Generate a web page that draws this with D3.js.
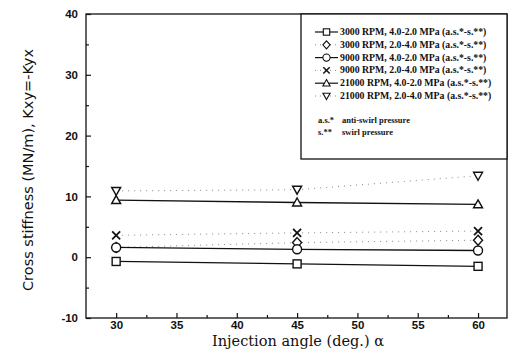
<!DOCTYPE html>
<html>
<head>
<meta charset="utf-8">
<script src="https://cdn.jsdelivr.net/npm/d3@7"></script>
<style>
  body { margin: 0; background: #fff; }
  svg { display: block; }
</style>
</head>
<body>
<svg></svg>
<script>
// injection angles (deg.)
const angles = [30, 45, 60];

// cross stiffness values (MN/m) per series
const sq3000_42 = [-0.7, -1.1, -1.5];
const di3000_24 = [1.6, 2.4, 2.8];
const ci9000_42 = [1.6, 1.3, 1.1];
const x9000_24 = [3.6, 4.0, 4.3];
const up21000_42 = [9.4, 9.0, 8.7];
const dn21000_24 = [10.9, 11.1, 13.4];

const seriesNames = [
  '3000 RPM, 4.0-2.0 MPa (a.s.*-s.**)',
  '3000 RPM, 2.0-4.0 MPa (a.s.*-s.**)',
  '9000 RPM, 4.0-2.0 MPa (a.s.*-s.**)',
  '9000 RPM, 2.0-4.0 MPa (a.s.*-s.**)',
  '21000 RPM, 4.0-2.0 MPa (a.s.*-s.**)',
  '21000 RPM, 2.0-4.0 MPa (a.s.*-s.**)'
];
const xTicks = [30, 35, 40, 45, 50, 55, 60];
const yTicks = [-10, 0, 10, 20, 30, 40];

const series = [
  { name: seriesNames[0], values: sq3000_42, symbol: 'square', dotted: false },
  { name: seriesNames[1], values: di3000_24, symbol: 'diamond', dotted: true },
  { name: seriesNames[2], values: ci9000_42, symbol: 'circle', dotted: false },
  { name: seriesNames[3], values: x9000_24, symbol: 'cross', dotted: true },
  { name: seriesNames[4], values: up21000_42, symbol: 'up', dotted: false },
  { name: seriesNames[5], values: dn21000_24, symbol: 'down', dotted: true }
];

const width = 510;
const height = 358;
const margin = { top: 14, right: 3, bottom: 40, left: 86 };

const svg = d3.select('svg')
  .attr('width', width)
  .attr('height', height);

const x = d3.scaleLinear()
  .domain([27.5, 62.4])
  .range([margin.left, width - margin.right]);

const y = d3.scaleLinear()
  .domain([-10, 40])
  .range([height - margin.bottom, margin.top]);

// frame
svg.append('rect')
  .attr('x', margin.left)
  .attr('y', margin.top)
  .attr('width', width - margin.right - margin.left)
  .attr('height', height - margin.bottom - margin.top)
  .attr('fill', 'none')
  .attr('stroke', '#111')
  .attr('stroke-width', 1.3);

// x axis (ticks point inward)
const xAxis = svg.append('g')
  .attr('transform', `translate(0,${height - margin.bottom})`)
  .call(d3.axisBottom(x).tickValues(xTicks).tickSize(-5).tickPadding(3).tickFormat(d => String(d)));
xAxis.select('.domain').remove();
xAxis.selectAll('.tick text')
  .attr('font-family', 'Liberation Sans, Arial, sans-serif')
  .attr('font-size', 11.5)
  .attr('font-weight', 'bold')
  .attr('fill', '#111');

svg.append('g')
  .attr('transform', `translate(0,${height - margin.bottom})`)
  .call(d3.axisBottom(x).tickValues(d3.range(32.5, 60, 5)).tickSize(-3).tickFormat(''))
  .select('.domain').remove();

const yAxis = svg.append('g')
  .attr('transform', `translate(${margin.left},0)`)
  .call(d3.axisLeft(y).tickValues(yTicks).tickSize(-5).tickPadding(8).tickFormat(d => String(d)));
yAxis.select('.domain').remove();
yAxis.selectAll('.tick text')
  .attr('font-family', 'Liberation Sans, Arial, sans-serif')
  .attr('font-size', 11.5)
  .attr('font-weight', 'bold')
  .attr('fill', '#111');

svg.append('g')
  .attr('transform', `translate(${margin.left},0)`)
  .call(d3.axisLeft(y).tickValues(d3.range(-5, 40, 10)).tickSize(-3).tickFormat(''))
  .select('.domain').remove();

svg.selectAll('.tick line').attr('stroke', '#111').attr('stroke-width', 1.2);

// axis titles
svg.append('text')
  .attr('x', 298)
  .attr('y', 346)
  .attr('text-anchor', 'middle')
  .attr('font-family', 'DejaVu Serif, serif')
  .attr('font-size', 14.5)
  .attr('fill', '#111')
  .text('Injection angle (deg.)  \u03b1');

svg.append('text')
  .attr('transform', `translate(33,${(margin.top + height - margin.bottom) / 2 + 4}) rotate(-90)`)
  .attr('text-anchor', 'middle')
  .attr('font-family', 'DejaVu Sans, sans-serif')
  .attr('font-size', 14.5)
  .attr('fill', '#111')
  .text('Cross stiffness (MN/m), Kxy=-Kyx');

// symbols
function drawSymbol(g, type) {
  const s = 4.5;
  g.attr('fill', 'white').attr('stroke', '#111').attr('stroke-width', 1.4);
  if (type === 'square') {
    g.append('rect').attr('x', -s + 0.5).attr('y', -s + 0.5).attr('width', 2 * s - 1).attr('height', 2 * s - 1);
  } else if (type === 'circle') {
    g.append('circle').attr('r', s);
  } else if (type === 'diamond') {
    g.append('path').attr('d', `M0,${-s - 0.5}L${s},0L0,${s + 0.5}L${-s},0Z`);
  } else if (type === 'up') {
    g.append('path').attr('d', `M0,${-s}L${s},${s - 1}L${-s},${s - 1}Z`);
  } else if (type === 'down') {
    g.append('path').attr('d', `M0,${s}L${s},${-s + 1}L${-s},${-s + 1}Z`);
  } else if (type === 'cross') {
    g.append('path').attr('d', `M${-s + 0.5},${-s + 0.5}L${s - 0.5},${s - 0.5}M${-s + 0.5},${s - 0.5}L${s - 0.5},${-s + 0.5}`)
      .attr('stroke-width', 1.8);
  }
}

const line = d3.line()
  .x((d, i) => x(angles[i]))
  .y(d => y(d));

const plot = svg.append('g');

series.forEach(s => {
  plot.append('path')
    .datum(s.values)
    .attr('d', line)
    .attr('fill', 'none')
    .attr('stroke', s.dotted ? '#888' : '#111')
    .attr('stroke-width', s.dotted ? 1 : 1.3)
    .attr('stroke-dasharray', s.dotted ? '1,5' : null);
});

series.forEach(s => {
  s.values.forEach((v, i) => {
    const g = plot.append('g')
      .attr('transform', `translate(${x(angles[i])},${y(v)})`);
    drawSymbol(g, s.symbol);
  });
});

// legend
const legend = svg.append('g');
legend.append('rect')
  .attr('x', 301)
  .attr('y', margin.top)
  .attr('width', width - margin.right - 301)
  .attr('height', 145)
  .attr('fill', 'white')
  .attr('stroke', '#111')
  .attr('stroke-width', 1.3);

series.forEach((s, i) => {
  const ly = 32 + i * 12.8;
  legend.append('line')
    .attr('x1', 315).attr('x2', 338)
    .attr('y1', ly).attr('y2', ly)
    .attr('stroke', s.dotted ? '#888' : '#111')
    .attr('stroke-width', s.dotted ? 1 : 1.2)
    .attr('stroke-dasharray', s.dotted ? '1,4' : null);
  const g = legend.append('g');
  drawSymbol(g, s.symbol);
  g.attr('transform', `translate(326.5,${ly}) scale(0.8)`);
  legend.append('text')
    .attr('x', 340)
    .attr('y', ly + 3)
    .attr('font-family', 'Liberation Serif, Times New Roman, serif')
    .attr('font-size', 9.8)
    .attr('font-weight', 'bold')
    .attr('fill', '#111')
    .text(s.name);
});

const notes = [['a.s.*', 'anti-swirl pressure'], ['s.**', 'swirl pressure']];
notes.forEach((n, i) => {
  const ly = 123 + i * 12;
  legend.append('text')
    .attr('x', 318).attr('y', ly)
    .attr('font-family', 'Liberation Serif, Times New Roman, serif')
    .attr('font-size', 8.5)
    .attr('font-weight', 'bold')
    .attr('fill', '#111')
    .text(n[0]);
  legend.append('text')
    .attr('x', 342).attr('y', ly)
    .attr('font-family', 'Liberation Serif, Times New Roman, serif')
    .attr('font-size', 8.5)
    .attr('font-weight', 'bold')
    .attr('fill', '#111')
    .text(n[1]);
});
</script>
</body>
</html>
